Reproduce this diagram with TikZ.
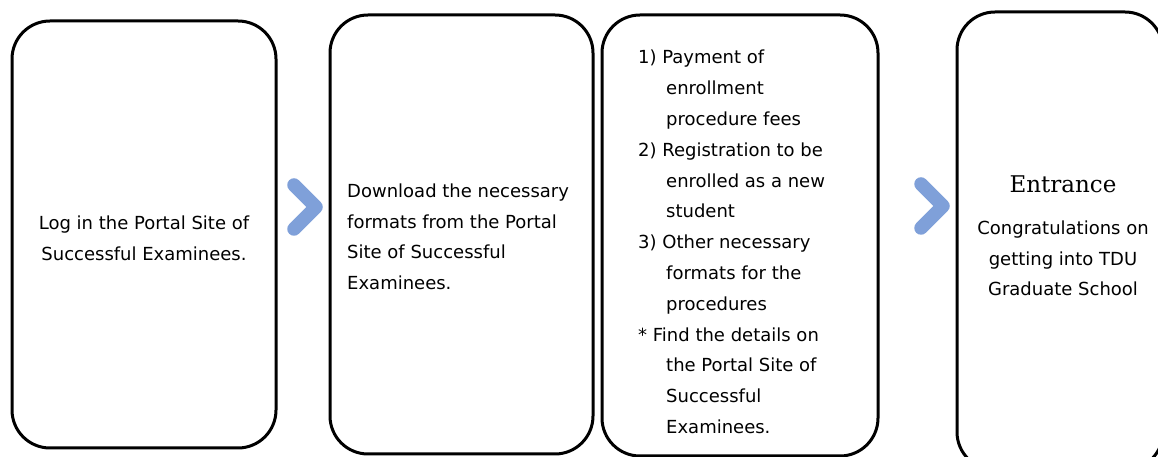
\documentclass[tikz,border=0pt]{standalone}
\usepackage{fontspec}
\setmainfont{DejaVu Sans}
\newfontfamily\headfont{DejaVu Serif}
\usepackage{xcolor}
\definecolor{chevblue}{RGB}{127,160,217}

\tikzset{
	stepbox/.style={rectangle,
		draw = black,
		line width = 3pt,
		rounded corners = 38pt,
		fill = white,
		inner sep = 0pt},
	steptext/.style={text = black,
		inner sep = 0pt,
		font = \fontsize{18}{30.5}\selectfont},
	chevron/.style={draw = chevblue,
		line width = 13.5pt,
		line cap = round,
		line join = round}
}

\begin{document}
\begin{tikzpicture}[x=1pt,y=1pt]
			
			\useasboundingbox (0,0) rectangle (1158,457);
			\clip (0,0) rectangle (1158,457);
			
			% the four boxes
			\node[stepbox,
			minimum width = 264pt, 
			minimum height = 427pt] (login) at (144,222.5) {};
			
			\node[stepbox,
			minimum width = 263pt, 
			minimum height = 439pt] (download) at (461.5,222.5) {};
			
			\node[stepbox,
			minimum width = 276pt, 
			minimum height = 441pt] (procedure) at (740,221.5) {};
			
			\node[stepbox,
			minimum width = 206pt, 
			minimum height = 458pt] (entrance) at (1060,216) {};
			
			% texts
			\node[steptext,
			align = center] (logintext) at (144,218.5) {Log in the Portal Site of\\Successful Examinees.};
			
			\node[steptext,
			anchor = north west,
			align = left] (downloadtext) at (347,273) {Download the necessary\\formats from the Portal\\Site of Successful\\Examinees.};
			
			\node[steptext,
			anchor = north west,
			align = left,
			font = \fontsize{18}{30.8}\selectfont] (proceduretext) at (638,407) {1) Payment of\\
				\hspace*{28pt}enrollment\\
				\hspace*{28pt}procedure fees\\
				2) Registration to be\\
				\hspace*{28pt}enrolled as a new\\
				\hspace*{28pt}student\\
				3) Other necessary\\
				\hspace*{28pt}formats for the\\
				\hspace*{28pt}procedures\\
				* Find the details on\\
				\hspace*{28pt}the Portal Site of\\
				\hspace*{28pt}Successful\\
				\hspace*{28pt}Examinees.};
			
			\node[text = black,
			inner sep = 0pt,
			anchor = base,
			font = \headfont\fontsize{23}{28}\selectfont] (entrancetitle) at (1063,264) {Entrance};
			
			\node[steptext,
			anchor = north,
			align = center] (entrancetext) at (1063,236) {Congratulations on\\getting into TDU\\Graduate School};
			
			% chevrons between the steps
			\coordinate (chev1) at (316,250);
			\coordinate (chev2) at (943,251);
			\draw[chevron] (chev1) ++(-22,22) -- (chev1) -- ++(-22,-22);
			\draw[chevron] (chev2) ++(-22,22) -- (chev2) -- ++(-22,-22);
			
\end{tikzpicture}
\end{document}
